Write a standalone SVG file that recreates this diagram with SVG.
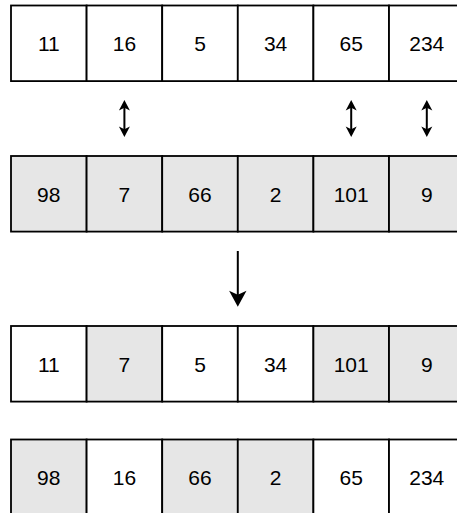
<svg xmlns="http://www.w3.org/2000/svg" width="457" height="513" viewBox="0 0 457 513">
  <style>
    .cell { stroke: #000; stroke-width: 1.8; }
    .w { fill: #ffffff; }
    .g { fill: #e6e6e6; }
    .lbl { font-family: "Liberation Sans", Arial, Helvetica, sans-serif; font-size: 21px; fill: #000; text-anchor: middle; }
    .link { stroke: #000; stroke-width: 2; fill: none; }
  </style>
  <defs>
    <marker id="headSmall" markerUnits="userSpaceOnUse" markerWidth="20" markerHeight="20" refX="0" refY="0" orient="auto-start-reverse" overflow="visible">
      <path d="M5,0 L-5.5,-5.5 L-2.8,0 L-5.5,5.5 Z" fill="#000"/>
    </marker>
    <marker id="headBig" markerUnits="userSpaceOnUse" markerWidth="30" markerHeight="30" refX="0" refY="0" orient="auto" overflow="visible">
      <path d="M6.7,0 L-9.3,-8.7 L-5.3,0 L-9.3,8.7 Z" fill="#000"/>
    </marker>
  </defs>
  <rect width="457" height="513" fill="#ffffff"/>

  <!-- row 1: first array -->
  <g id="a0"><rect class="cell w" x="11" y="5.5" width="75.6" height="75.6"/><text class="lbl" x="48.8" y="51">11</text></g>
  <g id="a1"><rect class="cell w" x="86.6" y="5.5" width="75.6" height="75.6"/><text class="lbl" x="124.4" y="51">16</text></g>
  <g id="a2"><rect class="cell w" x="162.2" y="5.5" width="75.6" height="75.6"/><text class="lbl" x="200" y="51">5</text></g>
  <g id="a3"><rect class="cell w" x="237.8" y="5.5" width="75.6" height="75.6"/><text class="lbl" x="275.6" y="51">34</text></g>
  <g id="a4"><rect class="cell w" x="313.4" y="5.5" width="75.6" height="75.6"/><text class="lbl" x="351.2" y="51">65</text></g>
  <g id="a5"><rect class="cell w" x="389" y="5.5" width="75.6" height="75.6"/><text class="lbl" x="426.8" y="51">234</text></g>

  <!-- row 2: second array -->
  <g id="b0"><rect class="cell g" x="11" y="156" width="75.6" height="75.6"/><text class="lbl" x="48.8" y="201.5">98</text></g>
  <g id="b1"><rect class="cell g" x="86.6" y="156" width="75.6" height="75.6"/><text class="lbl" x="124.4" y="201.5">7</text></g>
  <g id="b2"><rect class="cell g" x="162.2" y="156" width="75.6" height="75.6"/><text class="lbl" x="200" y="201.5">66</text></g>
  <g id="b3"><rect class="cell g" x="237.8" y="156" width="75.6" height="75.6"/><text class="lbl" x="275.6" y="201.5">2</text></g>
  <g id="b4"><rect class="cell g" x="313.4" y="156" width="75.6" height="75.6"/><text class="lbl" x="351.2" y="201.5">101</text></g>
  <g id="b5"><rect class="cell g" x="389" y="156" width="75.6" height="75.6"/><text class="lbl" x="426.8" y="201.5">9</text></g>

  <!-- row 3: first array after swap -->
  <g id="c0"><rect class="cell w" x="11" y="326" width="75.6" height="75.6"/><text class="lbl" x="48.8" y="371.5">11</text></g>
  <g id="c1"><rect class="cell g" x="86.6" y="326" width="75.6" height="75.6"/><text class="lbl" x="124.4" y="371.5">7</text></g>
  <g id="c2"><rect class="cell w" x="162.2" y="326" width="75.6" height="75.6"/><text class="lbl" x="200" y="371.5">5</text></g>
  <g id="c3"><rect class="cell w" x="237.8" y="326" width="75.6" height="75.6"/><text class="lbl" x="275.6" y="371.5">34</text></g>
  <g id="c4"><rect class="cell g" x="313.4" y="326" width="75.6" height="75.6"/><text class="lbl" x="351.2" y="371.5">101</text></g>
  <g id="c5"><rect class="cell g" x="389" y="326" width="75.6" height="75.6"/><text class="lbl" x="426.8" y="371.5">9</text></g>

  <!-- row 4: second array after swap -->
  <g id="d0"><rect class="cell g" x="11" y="439.5" width="75.6" height="75.6"/><text class="lbl" x="48.8" y="485">98</text></g>
  <g id="d1"><rect class="cell w" x="86.6" y="439.5" width="75.6" height="75.6"/><text class="lbl" x="124.4" y="485">16</text></g>
  <g id="d2"><rect class="cell g" x="162.2" y="439.5" width="75.6" height="75.6"/><text class="lbl" x="200" y="485">66</text></g>
  <g id="d3"><rect class="cell g" x="237.8" y="439.5" width="75.6" height="75.6"/><text class="lbl" x="275.6" y="485">2</text></g>
  <g id="d4"><rect class="cell w" x="313.4" y="439.5" width="75.6" height="75.6"/><text class="lbl" x="351.2" y="485">65</text></g>
  <g id="d5"><rect class="cell w" x="389" y="439.5" width="75.6" height="75.6"/><text class="lbl" x="426.8" y="485">234</text></g>

  <!-- connectors -->
  <g id="connectors">
    <line class="link" x1="124.4" y1="105" x2="124.4" y2="132" marker-start="url(#headSmall)" marker-end="url(#headSmall)"/>
    <line class="link" x1="351.2" y1="105" x2="351.2" y2="132" marker-start="url(#headSmall)" marker-end="url(#headSmall)"/>
    <line class="link" x1="426.8" y1="105" x2="426.8" y2="132" marker-start="url(#headSmall)" marker-end="url(#headSmall)"/>
    <line class="link" x1="237.8" y1="251" x2="237.8" y2="300" marker-end="url(#headBig)"/>
  </g>
</svg>
